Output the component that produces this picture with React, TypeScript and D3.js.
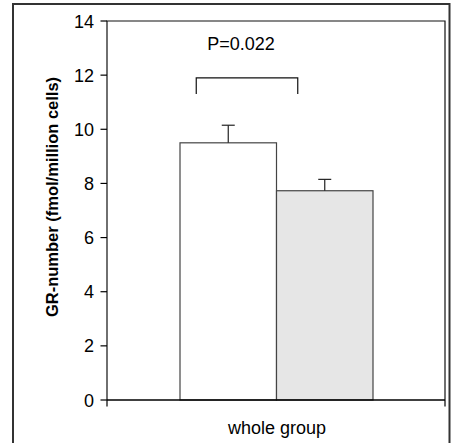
import React from "react";
import * as d3 from "d3";

// data
const groups = ["group A", "group B"];
const means = [9.5, 7.73];
const errTop = [10.15, 8.15];
const fills = ["#ffffff", "#e6e6e6"];
const yTicks = [0, 2, 4, 6, 8, 10, 12, 14];
const category = "whole group";
const pLabel = "P=0.022";
const bracketY = [11.9, 11.3];

const W = 452;
const H = 443;
const m = { left: 107, right: 445, top: 21, bottom: 400 };

export default function App() {
  const y = d3.scaleLinear().domain([0, 14]).range([m.bottom, m.top]);
  const x = d3.scaleBand().domain(groups).range([180, 373]).padding(0);
  const bw = x.bandwidth();
  const font = "Arial, 'Liberation Sans', Helvetica, sans-serif";

  const c0 = (x(groups[0]) ?? 0) + bw / 2;
  const c1 = (x(groups[1]) ?? 0) + bw / 2;
  const bx0 = c0 - 32;
  const bx1 = c1 - 27;

  return (
    <svg width={W} height={H} style={{ position: "absolute", left: 0, top: 0 }}>
      <rect x={0} y={0} width={W} height={H} fill="#fff" />
      {/* outer frame */}
      <path d={`M13,${H + 2}V4H449.5V${H + 2}`} fill="none" stroke="#333" strokeWidth={2} />

      {/* plot box */}
      <path d={`M${m.left},${m.bottom}V${m.top}H${m.right}V${m.bottom}`} fill="none" stroke="#111" strokeWidth={1.2} />

      {/* bars */}
      {groups.map((g, i) => (
        <g key={g}>
          <rect
            x={x(g)}
            y={y(means[i])}
            width={bw}
            height={y(0) - y(means[i])}
            fill={fills[i]}
            stroke="#444"
            strokeWidth={1.2}
          />
          <line x1={(x(g) ?? 0) + bw / 2} x2={(x(g) ?? 0) + bw / 2} y1={y(means[i])} y2={y(errTop[i])} stroke="#222" strokeWidth={1.2} />
          <line x1={(x(g) ?? 0) + bw / 2 - 6.5} x2={(x(g) ?? 0) + bw / 2 + 6.5} y1={y(errTop[i])} y2={y(errTop[i])} stroke="#222" strokeWidth={1.2} />
        </g>
      ))}

      {/* x axis */}
      <line x1={m.left} x2={m.right} y1={m.bottom} y2={m.bottom} stroke="#000" strokeWidth={1.6} />
      <line x1={m.left} x2={m.left} y1={m.bottom} y2={m.bottom + 6.5} stroke="#000" strokeWidth={1.2} />
      <line x1={m.right} x2={m.right} y1={m.bottom} y2={m.bottom + 6.5} stroke="#000" strokeWidth={1.2} />
      <text x={(m.left + m.right) / 2 + 1} y={434} textAnchor="middle" fontFamily={font} fontSize={18} fill="#000">
        {category}
      </text>

      {/* y axis ticks */}
      {yTicks.map((t) => (
        <g key={t}>
          <line x1={m.left - 6.5} x2={m.left} y1={y(t)} y2={y(t)} stroke="#000" strokeWidth={1.2} />
          <text x={m.left - 13} y={y(t) + 6.5} textAnchor="end" fontFamily={font} fontSize={18} fill="#000">
            {t}
          </text>
        </g>
      ))}

      <text
        transform={`translate(58,197) rotate(-90)`}
        textAnchor="middle"
        fontFamily={font}
        fontSize={16.5}
        fontWeight="bold"
        fill="#000"
      >
        GR-number (fmol/million cells)
      </text>

      {/* significance bracket */}
      <path
        d={`M${bx0},${y(bracketY[1])}V${y(bracketY[0])}H${bx1}V${y(bracketY[1])}`}
        fill="none"
        stroke="#111"
        strokeWidth={1.2}
      />
      <text x={241} y={50} textAnchor="middle" fontFamily={font} fontSize={18} fill="#000">
        {pLabel}
      </text>
    </svg>
  );
}
